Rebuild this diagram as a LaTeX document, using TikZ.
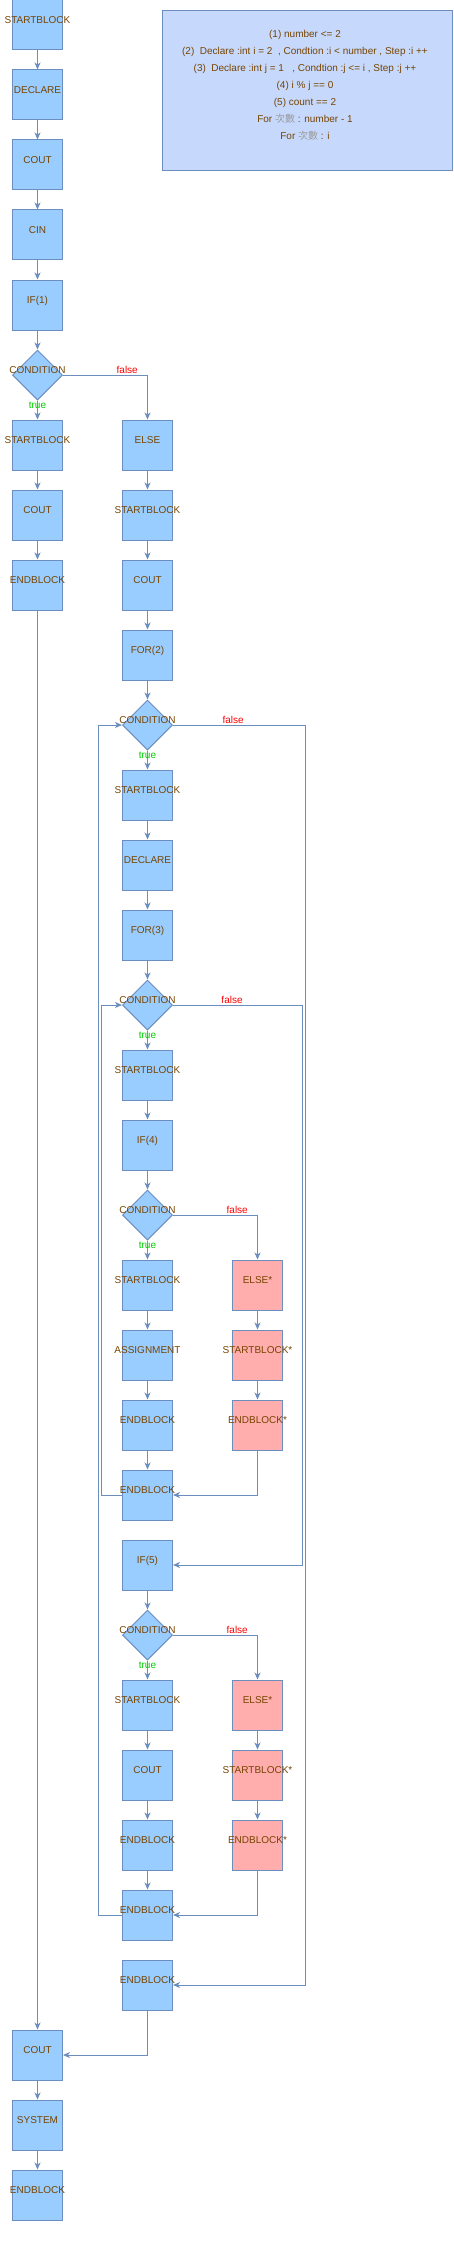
\documentclass[tikz,border=0pt]{standalone}
\usepackage{fontspec}
\setmainfont{Liberation Sans}
\newfontfamily\cjk{Noto Sans CJK TC}
\usepackage{tikz}
\usetikzlibrary{shapes.geometric, arrows.meta}

\definecolor{lineC}{HTML}{6C8EBF}
\definecolor{blkC}{HTML}{99CCFF}
\definecolor{errC}{HTML}{FFADAD}
\definecolor{noteC}{HTML}{C6D9FD}
\definecolor{txtC}{HTML}{774400}
\definecolor{trueC}{HTML}{00CC00}
\definecolor{falseC}{HTML}{FF0000}
\definecolor{cjkC}{HTML}{9A9A9A}

\begin{document}
\begin{tikzpicture}[x=1pt, y=-1pt,
	lbl/.style={font=\fontsize{10}{12}\selectfont, text=txtC, inner sep=0pt, text height=7pt, text depth=0pt, yshift=5pt},
	blk/.style={shape=rectangle, draw=lineC, fill=blkC, line width=1pt, minimum width=50pt, minimum height=50pt, inner sep=0pt, label={[lbl]center:#1}},
	blkx/.style={blk=#1, fill=errC},
	cond/.style={shape=diamond, draw=lineC, fill=blkC, line width=1pt, minimum width=50pt, minimum height=50pt, inner sep=0pt, label={[lbl]center:CONDITION}},
	flow/.style={draw=lineC, line width=1pt, -{Stealth[length=7pt, width=6pt, inset=2pt]}},
	tlbl/.style={font=\fontsize{10}{12}\selectfont, text=trueC, inner sep=0pt, text height=7pt, text depth=0pt},
	flbl/.style={font=\fontsize{10}{12}\selectfont, text=falseC, inner sep=0pt, text height=7pt, text depth=0pt, above=1pt},
	]
	
	\useasboundingbox (0,0) rectangle (453,2242);
	
	% note
	\node[shape=rectangle, draw=lineC, fill=noteC, line width=1pt, minimum width=290pt, minimum height=160pt] (info) at (307.5,90.3) {};
	\node[font=\fontsize{10}{17}\selectfont, text=txtC, inner sep=0pt, align=center] (infotext) at (305,85.7) {(1) number <= 2\\
		(2)\ \ Declare :int i = 2\ \ , Condtion :i < number , Step :i ++\\
		(3)\ \ Declare :int j = 1\ \ \ , Condtion :j <= i , Step :j ++\\
		(4) i \% j == 0\\
		(5) count == 2\\
		For {\cjk\color{cjkC}次數} : number - 1\\
		For {\cjk\color{cjkC}次數} : i};
	
	% main column
	\node[blk=STARTBLOCK] (start) at (37.5,25) {};
	\node[blk=DECLARE] (decl1) at (37.5,95) {};
	\node[blk=COUT] (cout1) at (37.5,165) {};
	\node[blk=CIN] (cin) at (37.5,235) {};
	\node[blk=IF(1)] (if1) at (37.5,305) {};
	\node[cond] (cond1) at (37.5,375) {};
	\node[blk=STARTBLOCK] (sb1) at (37.5,445) {};
	\node[blk=COUT] (cout2) at (37.5,515) {};
	\node[blk=ENDBLOCK] (eb1) at (37.5,585) {};
	\node[blk=COUT] (cout5) at (37.5,2055) {};
	\node[blk=SYSTEM] (sys) at (37.5,2125) {};
	\node[blk=ENDBLOCK] (eb7) at (37.5,2195) {};
	
	% else column
	\node[blk=ELSE] (else1) at (147.5,445) {};
	\node[blk=STARTBLOCK] (sb2) at (147.5,515) {};
	\node[blk=COUT] (cout3) at (147.5,585) {};
	\node[blk=FOR(2)] (for2) at (147.5,655) {};
	\node[cond] (cond2) at (147.5,725) {};
	\node[blk=STARTBLOCK] (sb3) at (147.5,795) {};
	\node[blk=DECLARE] (decl2) at (147.5,865) {};
	\node[blk=FOR(3)] (for3) at (147.5,935) {};
	\node[cond] (cond3) at (147.5,1005) {};
	\node[blk=STARTBLOCK] (sb4) at (147.5,1075) {};
	\node[blk=IF(4)] (if4) at (147.5,1145) {};
	\node[cond] (cond4) at (147.5,1215) {};
	\node[blk=STARTBLOCK] (sb5) at (147.5,1285) {};
	\node[blk=ASSIGNMENT] (asg) at (147.5,1355) {};
	\node[blk=ENDBLOCK] (eb2) at (147.5,1425) {};
	\node[blk=ENDBLOCK] (eb3) at (147.5,1495) {};
	\node[blk=IF(5)] (if5) at (147.5,1565) {};
	\node[cond] (cond5) at (147.5,1635) {};
	\node[blk=STARTBLOCK] (sb6) at (147.5,1705) {};
	\node[blk=COUT] (cout4) at (147.5,1775) {};
	\node[blk=ENDBLOCK] (eb4) at (147.5,1845) {};
	\node[blk=ENDBLOCK] (eb5) at (147.5,1915) {};
	\node[blk=ENDBLOCK] (eb6) at (147.5,1985) {};
	
	% missing else blocks
	\node[blkx=ELSE*] (els4) at (257.5,1285) {};
	\node[blkx=STARTBLOCK*] (sbx4) at (257.5,1355) {};
	\node[blkx=ENDBLOCK*] (ebx4) at (257.5,1425) {};
	\node[blkx=ELSE*] (els5) at (257.5,1705) {};
	\node[blkx=STARTBLOCK*] (sbx5) at (257.5,1775) {};
	\node[blkx=ENDBLOCK*] (ebx5) at (257.5,1845) {};
	
	% loop corners
	\coordinate (left2) at (98.5,725);
	\coordinate (left3) at (101.5,1005);
	\coordinate (right2) at (305.5,1985);
	\coordinate (right3) at (302.5,1565);
	
	\draw[flow] (start) -- (decl1);
	\draw[flow] (decl1) -- (cout1);
	\draw[flow] (cout1) -- (cin);
	\draw[flow] (cin) -- (if1);
	\draw[flow] (if1) -- (cond1);
	\draw[flow] (cond1) -- node[tlbl, pos=0.25] {true} (sb1);
	\draw[flow] (sb1) -- (cout2);
	\draw[flow] (cout2) -- (eb1);
	\draw[flow] (eb1) -- (cout5);
	\draw[flow] (cout5) -- (sys);
	\draw[flow] (sys) -- (eb7);
	\draw[flow] (cond1) -| node[flbl, pos=0.38] {false} (else1);
	
	\draw[flow] (else1) -- (sb2);
	\draw[flow] (sb2) -- (cout3);
	\draw[flow] (cout3) -- (for2);
	\draw[flow] (for2) -- (cond2);
	\draw[flow] (cond2) -- node[tlbl, pos=0.25] {true} (sb3);
	\draw[flow] (sb3) -- (decl2);
	\draw[flow] (decl2) -- (for3);
	\draw[flow] (for3) -- (cond3);
	\draw[flow] (cond3) -- node[tlbl, pos=0.25] {true} (sb4);
	\draw[flow] (sb4) -- (if4);
	\draw[flow] (if4) -- (cond4);
	\draw[flow] (cond4) -- node[tlbl, pos=0.25] {true} (sb5);
	\draw[flow] (sb5) -- (asg);
	\draw[flow] (asg) -- (eb2);
	\draw[flow] (eb2) -- (eb3);
	\draw[flow] (cond4) -| node[flbl, pos=0.38] {false} (els4);
	\draw[flow] (els4) -- (sbx4);
	\draw[flow] (sbx4) -- (ebx4);
	\draw[flow] (ebx4) |- (eb3);
	\draw[flow] (eb3.west) -| (left3) -- (cond3);
	\draw[flow] (cond3) -| node[flbl, pos=0.228] {false} (right3) -- (if5);
	
	\draw[flow] (if5) -- (cond5);
	\draw[flow] (cond5) -- node[tlbl, pos=0.25] {true} (sb6);
	\draw[flow] (sb6) -- (cout4);
	\draw[flow] (cout4) -- (eb4);
	\draw[flow] (eb4) -- (eb5);
	\draw[flow] (cond5) -| node[flbl, pos=0.38] {false} (els5);
	\draw[flow] (els5) -- (sbx5);
	\draw[flow] (sbx5) -- (ebx5);
	\draw[flow] (ebx5) |- (eb5);
	\draw[flow] (eb5.west) -| (left2) -- (cond2);
	\draw[flow] (cond2) -| node[flbl, pos=0.227] {false} (right2) -- (eb6);
	\draw[flow] (eb6) |- (cout5);
	
\end{tikzpicture}
\end{document}
